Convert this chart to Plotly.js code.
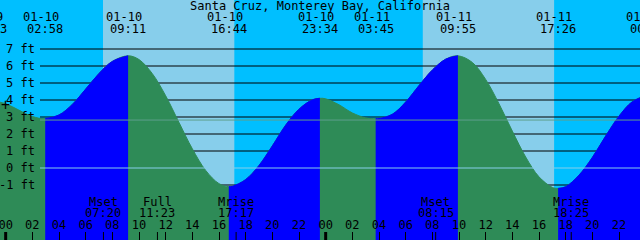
<!DOCTYPE html>
<html><head><meta charset="utf-8">
<script src="https://cdn.plot.ly/plotly-3.0.1.min.js"></script>
<style>html,body{margin:0;padding:0;background:#00BFFF}#chart{width:640px;height:240px}</style>
</head><body><div id="chart"></div>
<script>
// ---------- data ----------
const stationName = 'Santa Cruz, Monterey Bay, California';

// hourly tide heights (ft)
const tideTimes = [
  '2020-01-10 00:00','2020-01-10 01:00','2020-01-10 02:00','2020-01-10 04:00','2020-01-10 05:00',
  '2020-01-10 06:00','2020-01-10 07:00','2020-01-10 08:00','2020-01-10 10:00','2020-01-10 11:00',
  '2020-01-10 12:00','2020-01-10 13:00','2020-01-10 14:00','2020-01-10 15:00','2020-01-10 16:00',
  '2020-01-10 17:00','2020-01-10 18:00','2020-01-10 19:00','2020-01-10 20:00','2020-01-10 21:00',
  '2020-01-10 22:00','2020-01-10 23:00','2020-01-11 00:00','2020-01-11 01:00','2020-01-11 02:00',
  '2020-01-11 03:00','2020-01-11 04:00','2020-01-11 05:00','2020-01-11 06:00','2020-01-11 07:00',
  '2020-01-11 08:00','2020-01-11 09:00','2020-01-11 11:00','2020-01-11 12:00','2020-01-11 13:00',
  '2020-01-11 14:00','2020-01-11 15:00','2020-01-11 16:00','2020-01-11 17:00','2020-01-11 18:00',
  '2020-01-11 19:00','2020-01-11 20:00','2020-01-11 21:00','2020-01-11 22:00','2020-01-11 23:00'
];
const tideHeights = [
  3.78, 3.40, 3.03, 3.12, 3.74,
  4.64, 5.56, 6.27, 6.38, 5.55,
  4.25, 2.68, 1.13, -0.14, -0.92,
  -1.08, -0.68, 0.15, 1.30, 2.52,
  3.46, 4.01, 4.07, 3.72, 3.24,
  2.95, 2.91, 3.16, 3.88, 4.85,
  5.76, 6.40, 6.21, 5.21, 3.78,
  2.17, 0.65, -0.52, -1.14, -1.10,
  -0.42, 0.62, 1.88, 3.05, 3.90
];

// high / low tide events
const eventTimes = ['2020-01-09 22:43','2020-01-10 02:58','2020-01-10 09:11','2020-01-10 16:44',
  '2020-01-10 23:34','2020-01-11 03:45','2020-01-11 09:55','2020-01-11 17:26','2020-01-12 00:11'];
const eventHeights = [4.0, 2.9, 6.6, -1.1, 4.1, 2.9, 6.6, -1.2, 4.3];

// sun
const sunriseTimes = ['2020-01-10 07:18','2020-01-11 07:17'];
const sunsetTimes  = ['2020-01-10 17:09','2020-01-11 17:08'];

// moon
const moonNames = ['Mset','Full','Mrise','Mset','Mrise'];
const moonTimes = ['2020-01-10 07:20','2020-01-10 11:23','2020-01-10 17:17','2020-01-11 08:15','2020-01-11 18:25'];

// depth scale
const depthLevels = [7, 6, 5, 4, 3, 2, 1, 0, -1];
const depthUnit = 'ft';
const datumLevel = 0;
const meanLevel = 2.82;

const midnights = ['2020-01-10 00:00','2020-01-11 00:00'];
const nowTime = '2020-01-10 00:00';
const nowHeight = 3.70;

const viewStart = '2020-01-09 23:34:30';
const viewEnd   = '2020-01-11 23:34:30';

// ---------- styles ----------
const C = {
  night: '#00BFFF', day: '#87CEEB', rise: '#0000FF', fall: '#2E8B57',
  text: '#000000', datum: '#87CEEB', mean: '#5E9F8C'
};
const FONT = 'DejaVu Sans Mono, monospace';
const FLOOR = -6;
const LINE_START_FRAC = 40 / 640;
const Y_RANGE = [-4.235, 9.882];

function toMs(s) {
  const [d, t] = s.split(' ');
  const [Y, M, D] = d.split('-').map(Number);
  const p = t.split(':').map(Number);
  return Date.UTC(Y, M - 1, D, p[0], p[1], p[2] || 0);
}
const startMs = toMs(viewStart), endMs = toMs(viewEnd);
const lineStartMs = startMs + LINE_START_FRAC * (endMs - startMs);

const pts = tideTimes.map((t, i) => ({ t, ms: toMs(t), h: tideHeights[i] }))
  .concat(eventTimes.map((t, i) => ({ t, ms: toMs(t), h: eventHeights[i] })))
  .sort((a, b) => a.ms - b.ms);

function fillPair(seg, color) {
  return [
    { type: 'scatter', mode: 'lines', x: seg.map(p => p.ms), y: seg.map(() => FLOOR),
      line: { width: 1, color }, hoverinfo: 'skip', showlegend: false },
    { type: 'scatter', mode: 'lines', x: seg.map(p => p.ms), y: seg.map(p => p.h),
      fill: 'tonexty', fillcolor: color, line: { width: 1, color, shape: 'spline', smoothing: 1 },
      hoverinfo: 'skip', showlegend: false }
  ];
}

// depth lines, drawn before (behind) the water
let traces = depthLevels.filter(d => d !== datumLevel).map(d => ({
  type: 'scatter', mode: 'lines', x: [lineStartMs, endMs], y: [d, d],
  line: { color: '#000', width: 1 }, hoverinfo: 'skip', showlegend: false
}));

traces = traces.concat(fillPair(pts, C.fall));
for (let i = 0; i < eventTimes.length - 1; i++) {
  if (eventHeights[i + 1] > eventHeights[i]) {
    const a = toMs(eventTimes[i]), b = toMs(eventTimes[i + 1]);
    const seg = pts.filter(p => p.ms >= a && p.ms <= b);
    traces = traces.concat(fillPair(seg, C.rise));
  }
}

// ---------- shapes ----------
const shapes = [];
sunriseTimes.forEach((r, i) => {
  shapes.push({ type: 'rect', layer: 'below', xref: 'x', yref: 'paper', x0: toMs(r), x1: toMs(sunsetTimes[i]),
    y0: 0, y1: 1, fillcolor: C.day, line: { width: 0 } });
});
shapes.push({ type: 'line', layer: 'above', xref: 'paper', yref: 'y', x0: LINE_START_FRAC, x1: 1,
  y0: datumLevel, y1: datumLevel, line: { color: C.datum, width: 1 } });
shapes.push({ type: 'line', layer: 'above', xref: 'paper', yref: 'y', x0: LINE_START_FRAC, x1: 1,
  y0: meanLevel, y1: meanLevel, line: { color: C.mean, width: 1 } });
moonTimes.forEach(t => {
  shapes.push({ type: 'line', layer: 'above', xref: 'x', yref: 'paper', x0: toMs(t), x1: toMs(t),
    y0: 0, y1: 8 / 240, line: { color: '#000', width: 1 } });
});
midnights.forEach(t => {
  shapes.push({ type: 'line', layer: 'above', xref: 'x', yref: 'paper', x0: toMs(t), x1: toMs(t),
    y0: 0, y1: 8 / 240, line: { color: '#000', width: 3 } });
});

// ---------- annotations ----------
const f12 = { family: FONT, size: 12, color: C.text };
const ann = [];
ann.push({ text: stationName, xref: 'paper', yref: 'paper', x: 0.5, y: 1, xanchor: 'center',
  yanchor: 'middle', yshift: -6, showarrow: false, font: f12 });
depthLevels.forEach(d => {
  ann.push({ text: d + ' ' + depthUnit, xref: 'paper', yref: 'y', x: 0, y: d, xanchor: 'right',
    yanchor: 'middle', xshift: 37, showarrow: false, font: f12 });
});
eventTimes.forEach(t => {
  const ms = toMs(t);
  const inside = ms >= startMs && ms <= endMs;
  const xv = inside ? ms : (ms - startMs) / (endMs - startMs);
  const xref = inside ? 'x' : 'paper';
  ann.push({ text: t.slice(5, 10), xref, yref: 'paper', x: xv, y: 1, xanchor: 'center',
    yanchor: 'middle', xshift: -4, yshift: -17, showarrow: false, font: f12 });
  ann.push({ text: t.slice(11, 16), xref, yref: 'paper', x: xv, y: 1, xanchor: 'center',
    yanchor: 'middle', yshift: -29, showarrow: false, font: f12 });
});
moonTimes.forEach((t, i) => {
  ann.push({ text: moonNames[i], xref: 'x', yref: 'paper', x: toMs(t), y: 0, xanchor: 'center',
    yanchor: 'middle', yshift: 38, showarrow: false, font: f12 });
  ann.push({ text: t.slice(11, 16), xref: 'x', yref: 'paper', x: toMs(t), y: 0, xanchor: 'center',
    yanchor: 'middle', yshift: 27, showarrow: false, font: f12 });
});
ann.push({ text: '+', xref: 'x', yref: 'y', x: toMs(nowTime), y: nowHeight, xanchor: 'center',
  yanchor: 'middle', showarrow: false, font: { family: FONT, size: 15, color: C.text } });

const layout = {
  width: 640, height: 240, margin: { l: 0, r: 0, t: 0, b: 0, pad: 0 },
  paper_bgcolor: C.night, plot_bgcolor: C.night, showlegend: false,
  xaxis: {
    type: 'date', range: [startMs, endMs], showgrid: false, zeroline: false, showline: false,
    ticks: 'inside', ticklen: 8, tickwidth: 1, tickcolor: '#000',
    tick0: toMs('2020-01-10 00:00'), dtick: 7200000, tickformat: '%H',
    ticklabelposition: 'inside', ticklabeloverflow: 'allow',
    tickfont: f12, fixedrange: true
  },
  yaxis: {
    range: Y_RANGE, showgrid: false, zeroline: false, showline: false,
    ticks: '', showticklabels: false, fixedrange: true
  },
  shapes, annotations: ann
};

Plotly.newPlot('chart', traces, layout, { displayModeBar: false, staticPlot: true });
</script>
</body></html>
